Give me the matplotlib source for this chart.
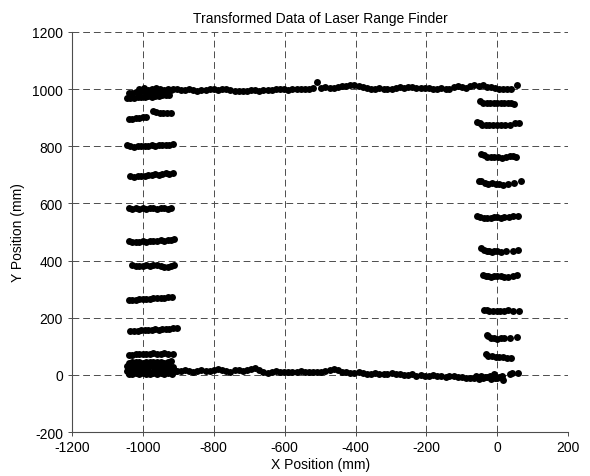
import matplotlib
matplotlib.use("Agg")
import matplotlib.pyplot as plt

plt.rcParams['font.family'] = ['Liberation Sans', 'DejaVu Sans']
plt.rcParams['font.size'] = 10
plt.rcParams['axes.unicode_minus'] = False

# --- top wall (y ~ 1000) ---
top_x = [-1010, -998, -986, -975, -963, -951, -940, -928, -916, -905,
         -893, -881, -870, -858, -846, -835, -823, -811, -800, -788,
         -776, -765, -753, -741, -730, -718, -706, -695, -683, -671,
         -660, -648, -636, -625, -613, -601, -590, -578, -566, -555,
         -543, -531, -520, -508, -496, -485, -473, -461, -450, -438,
         -426, -415, -403, -391, -380, -368, -356, -345, -333, -321,
         -310, -298, -286, -275, -263, -251, -240, -228, -216, -205,
         -193, -181, -170, -158, -146, -135, -123, -111, -100, -88,
         -76, -65, -53, -41, -30, -18, -6, 5, 17, 28, 40, 57]
top_y = [1000, 1003, 998, 1002, 1005, 1001, 997, 999, 1002, 1000,
         996, 998, 1000, 997, 995, 997, 996, 999, 1000, 998,
         1001, 999, 996, 994, 993, 995, 993, 996, 997, 995,
         996, 998, 997, 999, 1002, 1001, 998, 999, 1001, 1000,
         1002, 1000, 1003, 1024, 1004, 1006, 1003, 1005, 1008, 1011,
         1012, 1015, 1014, 1011, 1009, 1005, 1002, 1001, 1003, 1002,
         1000, 1002, 1004, 1006, 1003, 1007, 1009, 1005, 1003, 1005,
         1004, 1002, 1001, 1003, 1000, 1002, 1006, 1010, 1008, 1005,
         1012, 1015, 1010, 1013, 1009, 1006, 1003, 1000, 1002, 999, 1001, 1013]

# --- bottom wall (y ~ 0) ---
bottom_x = [-905, -893, -881, -870, -858, -846, -835, -823, -811, -800,
            -788, -776, -765, -753, -741, -730, -718, -706, -695, -683,
            -671, -660, -648, -636, -625, -613, -601, -590, -578, -566,
            -555, -543, -531, -520, -508, -496, -485, -473, -461, -450,
            -438, -426, -415, -403, -391, -380, -368, -356, -345, -333,
            -321, -310, -298, -286, -275, -263, -251, -240, -228, -216,
            -205, -193, -181, -170, -158, -146, -135, -123, -111, -100,
            -88, -76, -65, -53, -41, -30, -18, -6, 5, 17,
            -60, -45, -35, -20, -10, 0, 12, 35, 42, 58]
bottom_y = [15, 13, 16, 14, 12, 15, 17, 14, 13, 16,
            22, 18, 14, 12, 16, 19, 15, 17, 20, 23,
            18, 10, 8, 12, 13, 11, 12, 12, 10, 11,
            13, 11, 9, 10, 12, 11, 14, 18, 22, 17,
            12, 10, 8, 7, 9, 6, 4, 5, 6, 4,
            5, 3, 6, 2, 4, -1, 0, 2, -2, 0,
            -3, -2, -1, -3, -4, -6, -2, -5, -8, -6,
            -9, -12, -10, -14, -11, -8, -15, -12, -6, -16,
            -4, -2, -7, -3, 2, -9, -2, 5, 8, 7]

# --- left wall scan rows ---
left_x = [
    # y ~ 990
    -1040, -1030, -1020, -1010, -1000, -990, -980, -970, -960, -950, -940, -930, -920,
    # y ~ 975
    -1045, -1035, -1025, -1015, -1005, -995, -985, -975, -965, -955, -945, -935, -925,
    # y ~ 900 / 918
    -1040, -1030, -1020, -1010, -1000, -990,
    -972, -962, -952, -942, -932, -922,
    # y ~ 802
    -1045, -1035, -1025, -1015, -1005, -995, -985, -975, -965, -955, -945, -935, -925, -915,
    # y ~ 700
    -1035, -1025, -1015, -1005, -995, -985, -975, -965, -955, -945, -935, -925, -915,
    # y ~ 583
    -1040, -1030, -1020, -1010, -1000, -990, -980, -970, -960, -950, -940, -930, -922,
    # y ~ 470
    -1040, -1030, -1020, -1010, -1000, -990, -980, -970, -960, -950, -940, -930, -920, -913,
    # y ~ 383
    -1030, -1020, -1010, -1000, -990, -980, -970, -960, -950, -940, -930, -920, -912,
    # y ~ 265
    -1040, -1030, -1020, -1010, -1000, -990, -980, -970, -960, -950, -940, -930, -918,
    # y ~ 158
    -1035, -1025, -1015, -1005, -995, -985, -975, -965, -955, -945, -935, -925, -915, -905,
    # y ~ 74
    -1040, -1030, -1020, -1010, -1000, -990, -980, -970, -960, -950, -940, -930, -915,
    # y ~ 45
    -1040, -1030, -1020, -1010, -1000, -990, -980, -970, -960, -950, -940, -930, -920,
    # y ~ 30
    -1045, -1035, -1025, -1015, -1005, -995, -985, -975, -965, -955, -945, -935, -925, -915,
    # y ~ 15
    -1045, -1035, -1025, -1015, -1005, -995, -985, -975, -965, -955, -945, -935, -925, -915, -908,
    # y ~ 5
    -1040, -1030, -1020, -1010, -1000, -990, -980, -970, -960, -950, -940, -930, -918,
]
left_y = [
    985, 988, 990, 986, 992, 989, 993, 991, 995, 990, 994, 992, 996,
    968, 970, 969, 972, 971, 973, 975, 974, 977, 976, 979, 978, 980,
    897, 896, 898, 899, 901, 903,
    924, 919, 917, 918, 917, 918,
    805, 800, 799, 800, 801, 800, 802, 803, 802, 804, 805, 804, 806, 808,
    695, 694, 696, 697, 696, 699, 700, 702, 701, 704, 705, 704, 706,
    583, 582, 583, 582, 583, 582, 584, 583, 582, 584, 585, 580, 583,
    468, 466, 465, 466, 467, 466, 468, 470, 469, 472, 470, 471, 473, 475,
    383, 381, 380, 382, 383, 382, 384, 383, 381, 378, 377, 381, 383,
    262, 261, 263, 264, 265, 267, 266, 268, 269, 268, 270, 271, 272,
    154, 153, 155, 156, 156, 158, 157, 159, 158, 160, 159, 161, 163, 164,
    71, 70, 72, 74, 73, 75, 74, 76, 75, 74, 76, 73, 75,
    42, 45, 44, 46, 43, 45, 47, 44, 46, 45, 43, 46, 48,
    30, 28, 32, 29, 31, 27, 30, 33, 29, 31, 28, 30, 32, 29,
    15, 18, 14, 16, 13, 17, 15, 12, 16, 14, 18, 15, 13, 16, 15,
    5, 3, 7, 4, 6, 2, 5, 8, 4, 6, 3, 7, 5,
]

# --- right wall scan rows ---
right_x = [
    -50, -40, -30, -20, -10, 0, 10, 20, 30, 40, 47,
    -58, -50, -42, -32, -22, -12, 0, 10, 22, 35, 50, 62,
    -45, -37, -28, -18, -8, 2, 12, 25, 35, 45, 52,
    -53, -45, -35, -25, -15, -5, 5, 15, 30, 48, 66,
    -58, -48, -38, -28, -18, -8, 0, 10, 20, 32, 45, 58,
    -45, -38, -30, -22, -15, -8, 0, 10, 25, 45, 58,
    -40, -32, -25, -17, -10, 0, 10, 20, 30, 45, 56,
    -37, -30, -22, -12, -2, 8, 20, 30, 45, 60,
    -30, -25, -18, -10, 0, 10, 20, 35, 55,
    -32, -25, -15, -5, 5, 15, 28, 40,
]
right_y = [
    957, 953, 950, 951, 950, 952, 951, 950, 951, 950, 949,
    885, 880, 876, 874, 874, 875, 874, 875, 874, 876, 880, 882,
    772, 768, 764, 762, 762, 763, 760, 762, 765, 765, 763,
    680, 677, 672, 669, 670, 668, 667, 665, 668, 672, 678,
    557, 552, 549, 548, 549, 551, 552, 550, 553, 554, 555, 555,
    443, 438, 435, 433, 431, 432, 434, 431, 432, 435, 436,
    350, 346, 345, 344, 345, 345, 346, 343, 342, 346, 348,
    226, 228, 225, 224, 223, 225, 224, 226, 224, 222,
    139, 135, 130, 128, 127, 129, 128, 130, 131,
    72, 68, 65, 62, 63, 62, 61, 60,
]

x_ticks = [-1200, -1000, -800, -600, -400, -200, 0, 200]
y_ticks = [-200, 0, 200, 400, 600, 800, 1000, 1200]

fig = plt.figure(figsize=(5.9, 4.77), dpi=100)
ax = fig.add_axes([0.122, 0.092, 0.841, 0.839])

for xs, ys in [(top_x, top_y), (bottom_x, bottom_y),
               (left_x, left_y), (right_x, right_y)]:
    ax.plot(xs, ys, 'o', color='k', ms=5, mew=0)

ax.set_xlim(-1200, 200)
ax.set_ylim(-200, 1200)
ax.set_xticks(x_ticks)
ax.set_yticks(y_ticks)
ax.tick_params(direction='out', length=3, width=0.7, labelsize=10,
               color='0.3')
ax.tick_params(axis='x', pad=3)
ax.grid(True, color='0.3', linestyle=(0, (7, 4)), linewidth=0.7)
ax.spines['top'].set_visible(False)
ax.spines['right'].set_visible(False)
for s in ['left', 'bottom']:
    ax.spines[s].set_linewidth(0.8)
    ax.spines[s].set_color('0.3')

ax.set_title('Transformed Data of Laser Range Finder', fontsize=10, pad=7)
ax.set_xlabel('X Position (mm)', fontsize=10, labelpad=2)
ax.set_ylabel('Y Position (mm)', fontsize=10, labelpad=5)

fig.savefig('out.png', dpi=100)
